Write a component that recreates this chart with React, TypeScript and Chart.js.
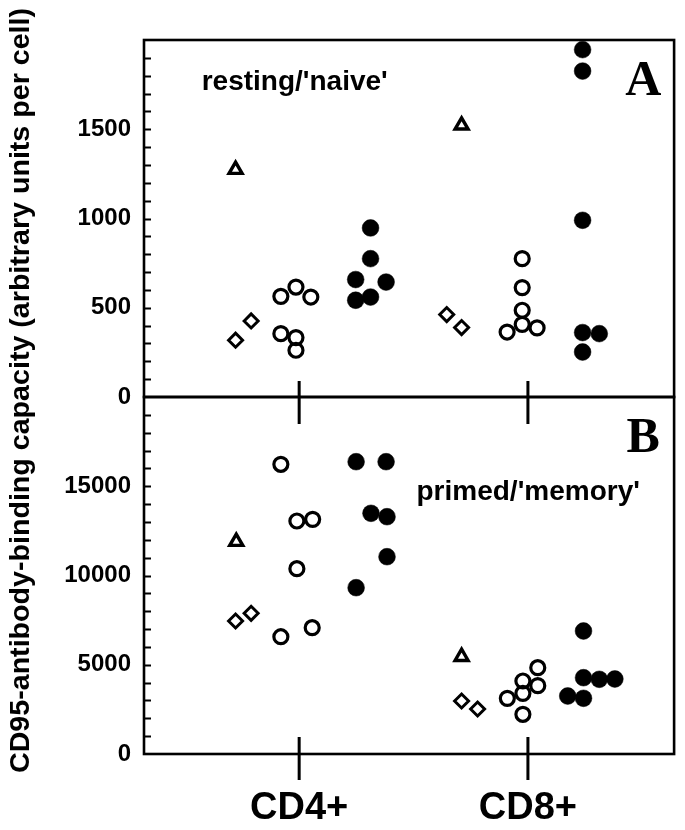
import React, { useEffect, useRef } from 'react';
import { Chart, registerables } from 'chart.js';

Chart.register(...registerables);

// ---- categories & tick labels ----
const categories = ['CD4+', 'CD8+'];
const panelATicks = [0, 500, 1000, 1500];
const panelBTicks = [0, 5000, 10000, 15000];
const yTitle = 'CD95-antibody-binding capacity (arbitrary units per cell)';

// ---- Panel A: resting/'naive' ----
const naiveTriangleX = [0.722, 1.71];
const naiveTriangleY = [1274, 1522];
const naiveDiamondX = [0.722, 0.79, 1.645, 1.71];
const naiveDiamondY = [318, 426, 462, 389];
const naiveOpenX = [0.92, 0.986, 1.051, 0.92, 0.986, 0.986, 1.975, 1.975, 1.975, 1.975, 1.909, 2.04];
const naiveOpenY = [564, 616, 560, 355, 333, 262, 775, 613, 486, 407, 364, 387];
const naiveFilledX = [1.312, 1.312, 1.247, 1.38, 1.247, 1.312, 2.239, 2.239, 2.239, 2.239, 2.312, 2.239];
const naiveFilledY = [947, 775, 658, 644, 542, 560, 1946, 1826, 990, 361, 355, 252];

// ---- Panel B: primed/'memory' ----
const memoryTriangleX = [0.725, 1.71];
const memoryTriangleY = [11900, 5451];
const memoryDiamondX = [0.722, 0.79, 1.71, 1.78];
const memoryDiamondY = [7451, 7882, 2969, 2521];
const memoryOpenX = [0.92, 0.99, 1.059, 0.99, 0.92, 1.057, 2.043, 1.978, 2.043, 1.978, 1.91, 1.978];
const memoryOpenY = [16230, 13053, 13148, 10381, 6571, 7076, 4835, 4090, 3827, 3400, 3120, 2224];
const memoryFilledX = [1.249, 1.38, 1.314, 1.384, 1.384, 1.249, 2.243, 2.243, 2.312, 2.38, 2.174, 2.243];
const memoryFilledY = [16375, 16375, 13484, 13294, 11053, 9317, 6891, 4275, 4185, 4202, 3249, 3120];

const FONT = '"Liberation Sans", Arial, Helvetica, sans-serif';
const SERIF = '"Liberation Serif", "Times New Roman", serif';

const toPts = (xs: number[], ys: number[]) => xs.map((x, i) => ({ x, y: ys[i] }));

type Style = 'triangle' | 'diamond' | 'open' | 'filled';
const makeDataset = (xs: number[], ys: number[], axis: string, style: Style) => {
  const base: any = {
    data: toPts(xs, ys),
    yAxisID: axis,
    xAxisID: 'x',
    showLine: false,
    clip: false,
    borderColor: '#000',
    pointBorderColor: '#000',
    pointHoverRadius: 0,
  };
  const cfg = (ps: string, r: number, bw: number, fill: string) => ({
    ...base,
    pointStyle: ps,
    pointRadius: r,
    radius: r,
    pointBorderWidth: bw,
    borderWidth: bw,
    backgroundColor: fill,
    pointBackgroundColor: fill,
  });
  if (style === 'triangle') return cfg('triangle', 7.5, 3.4, 'rgba(0,0,0,0)');
  if (style === 'diamond') return cfg('rectRot', 7, 3, 'rgba(0,0,0,0)');
  if (style === 'open') return cfg('circle', 7, 3.2, 'rgba(0,0,0,0)');
  return cfg('circle', 8.4, 0.5, '#000');
};

const framePlugin = {
  id: 'framePlugin',
  afterDraw(chart: any) {
    const { ctx } = chart;
    const xS = chart.scales.x;
    const yA = chart.scales.yA;
    const yB = chart.scales.yB;
    const left = chart.chartArea.left;
    const right = chart.chartArea.right;
    ctx.save();
    ctx.strokeStyle = '#000';
    ctx.fillStyle = '#000';
    ctx.lineCap = 'butt';

    // frames
    ctx.lineWidth = 2.6;
    ctx.strokeRect(left, yA.top, right - left, yA.bottom - yA.top);
    ctx.strokeRect(left, yB.top, right - left, yB.bottom - yB.top);

    // inward y ticks
    ctx.lineWidth = 2;
    ctx.beginPath();
    for (let v = 100; v < 2000; v += 100) {
      const p = Math.round(yA.getPixelForValue(v)) + 0.5;
      ctx.moveTo(left, p);
      ctx.lineTo(left + 7, p);
    }
    for (let v = 1000; v < 20000; v += 1000) {
      const p = Math.round(yB.getPixelForValue(v)) + 0.5;
      ctx.moveTo(left, p);
      ctx.lineTo(left + 7, p);
    }
    ctx.stroke();

    // x ticks
    ctx.lineWidth = 3;
    ctx.beginPath();
    [1, 2].forEach((v) => {
      const px = xS.getPixelForValue(v);
      ctx.moveTo(px, yA.bottom - 16);
      ctx.lineTo(px, yA.bottom);
      ctx.moveTo(px, yB.top);
      ctx.lineTo(px, yB.top + 27);
      ctx.moveTo(px, yB.bottom - 17);
      ctx.lineTo(px, yB.bottom + 26);
    });
    ctx.stroke();

    // annotations
    ctx.textBaseline = 'alphabetic';
    ctx.textAlign = 'left';
    ctx.font = `bold 28px ${FONT}`;
    ctx.fillText("resting/'naive'", xS.getPixelForValue(0.574), yA.getPixelForValue(1718));
    ctx.fillText("primed/'memory'", xS.getPixelForValue(1.513), yB.getPixelForValue(14230));
    ctx.textAlign = 'center';
    ctx.font = `bold 50px ${SERIF}`;
    ctx.fillText('A', xS.getPixelForValue(2.504), yA.getPixelForValue(1690));
    ctx.fillText('B', xS.getPixelForValue(2.504), yB.getPixelForValue(16919));

    // y axis title
    ctx.font = `bold 28px ${FONT}`;
    const w = ctx.measureText(yTitle).width;
    ctx.translate(29, 390.5);
    ctx.rotate(-Math.PI / 2);
    ctx.scale(765 / w, 1);
    ctx.textAlign = 'center';
    ctx.textBaseline = 'alphabetic';
    ctx.fillText(yTitle, 0, 0);
    ctx.restore();
  },
};

const yAxisCommon = (min: number, max: number, ticks: number[]) => ({
  type: 'linear',
  position: 'left',
  stack: 'panels',
  stackWeight: 1,
  min,
  max,
  grid: { display: false, drawTicks: false },
  border: { display: false },
  afterBuildTicks: (s: any) => {
    s.ticks = ticks.map((v) => ({ value: v }));
  },
  afterFit: (s: any) => {
    s.width = 144;
  },
  ticks: {
    autoSkip: false,
    padding: 13,
    color: '#000',
    font: { family: FONT, size: 24, weight: 'bold' },
    callback: (v: any) => String(v),
  },
});

export default function App() {
  const ref = useRef<HTMLCanvasElement>(null);
  useEffect(() => {
    if (!ref.current) return;
    const chart = new Chart(ref.current, {
      type: 'scatter',
      data: {
        datasets: [
          makeDataset(naiveTriangleX, naiveTriangleY, 'yA', 'triangle'),
          makeDataset(naiveDiamondX, naiveDiamondY, 'yA', 'diamond'),
          makeDataset(naiveOpenX, naiveOpenY, 'yA', 'open'),
          makeDataset(naiveFilledX, naiveFilledY, 'yA', 'filled'),
          makeDataset(memoryTriangleX, memoryTriangleY, 'yB', 'triangle'),
          makeDataset(memoryDiamondX, memoryDiamondY, 'yB', 'diamond'),
          makeDataset(memoryOpenX, memoryOpenY, 'yB', 'open'),
          makeDataset(memoryFilledX, memoryFilledY, 'yB', 'filled'),
        ],
      },
      options: {
        animation: false,
        responsive: true,
        maintainAspectRatio: false,
        layout: { padding: { top: 40, right: 8, left: 0, bottom: 0 } },
        plugins: { legend: { display: false }, tooltip: { enabled: false } },
        events: [],
        scales: {
          x: {
            type: 'linear',
            position: 'bottom',
            min: 0.3217,
            max: 2.639,
            grid: { display: false, drawTicks: false },
            border: { display: false },
            afterBuildTicks: (s: any) => {
              s.ticks = [1, 2].map((v) => ({ value: v }));
            },
            afterFit: (s: any) => {
              s.height = 76;
            },
            ticks: {
              autoSkip: false,
              maxRotation: 0,
              padding: 32,
              color: '#000',
              font: { family: FONT, size: 38, weight: 'bold' },
              callback: (v: any) => categories[Math.round(Number(v)) - 1] ?? '',
            },
          },
          yB: yAxisCommon(0, 20000, panelBTicks),
          yA: yAxisCommon(0, 2000, panelATicks),
        } as any,
      },
      plugins: [framePlugin],
    } as any);
    return () => chart.destroy();
  }, []);
  return (
    <div style={{ position: 'fixed', left: 0, top: 0, width: 685, height: 830, background: '#fff' }}>
      <canvas ref={ref} />
    </div>
  );
}
